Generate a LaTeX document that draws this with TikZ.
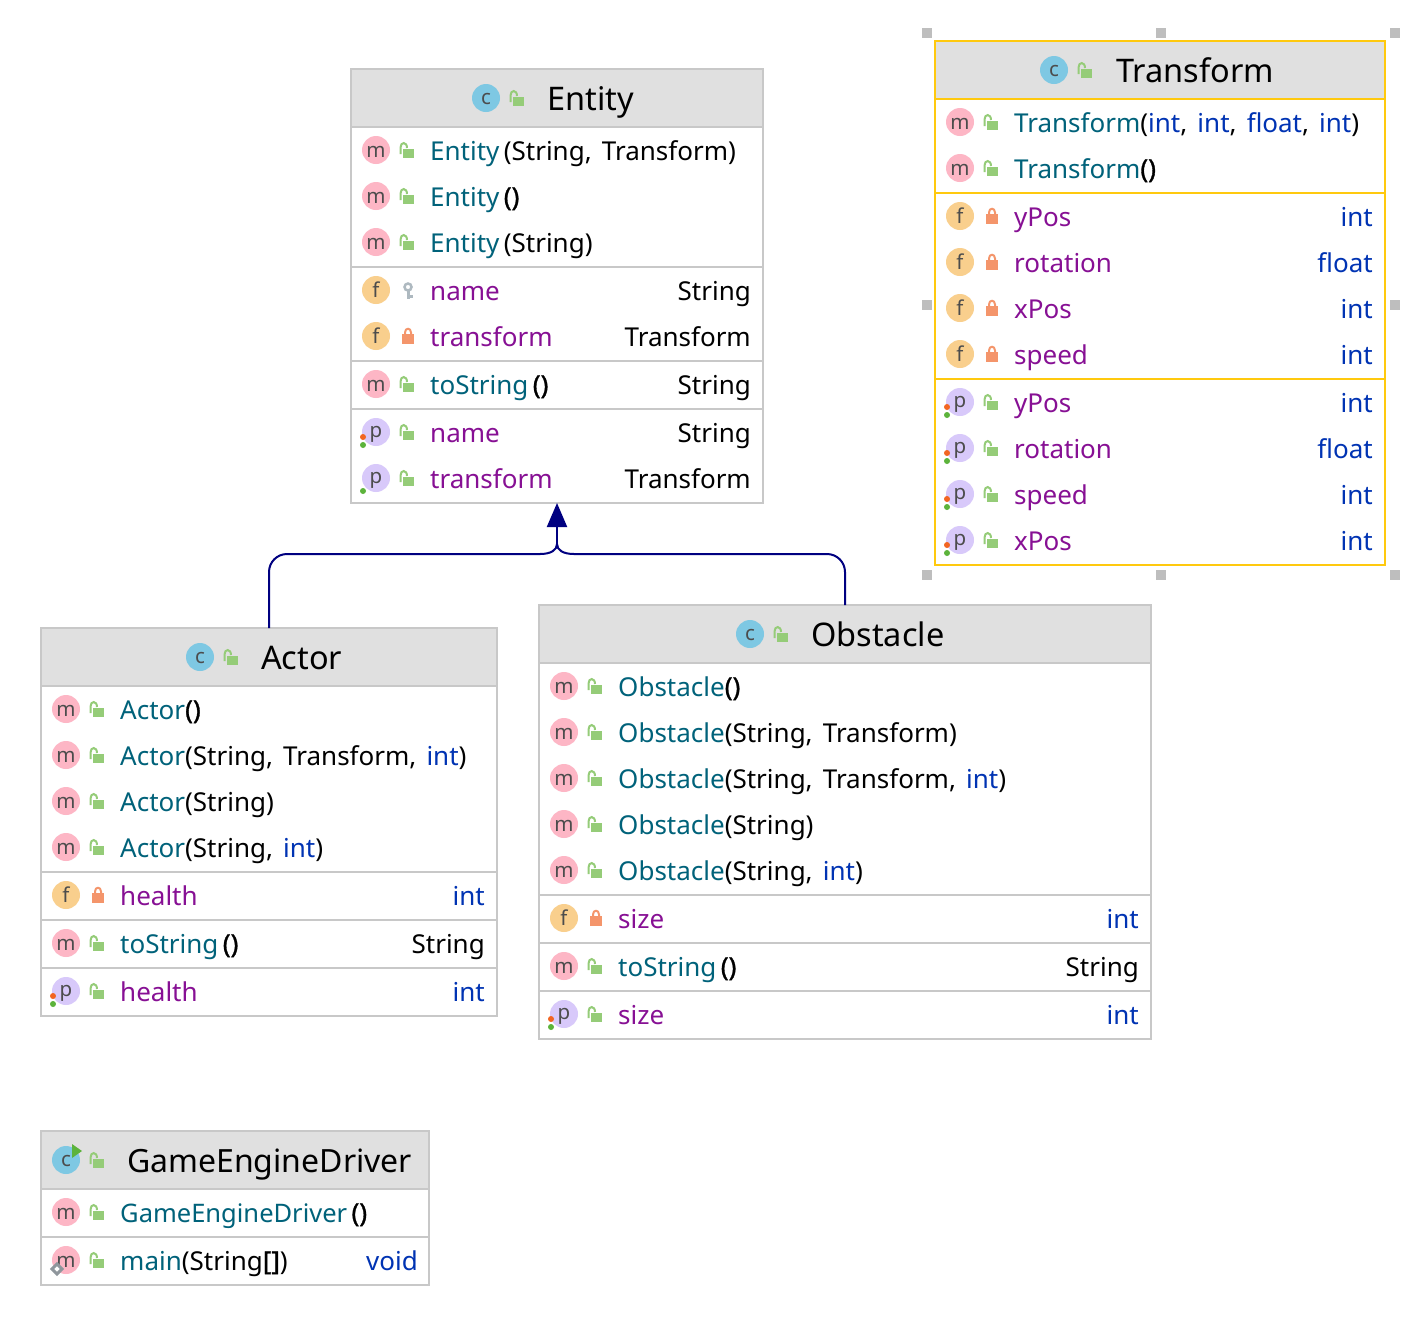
\documentclass[tikz,border=0pt]{standalone}
\usepackage{fontspec}
\setmainfont{Noto Sans}[WordSpace=1.5]
\newfontfamily\parenfont{Noto Sans}[FakeBold=1.2]
\usepackage{xcolor}
\definecolor{methname}{HTML}{00627A}
\definecolor{fieldname}{HTML}{871094}
\definecolor{kwblue}{HTML}{0033B3}
\definecolor{arrownavy}{HTML}{000080}
\definecolor{boxgrey}{HTML}{C8C8C8}
\definecolor{headgrey}{HTML}{E0E0E0}
\definecolor{selgold}{HTML}{FFC90E}
\definecolor{handlegrey}{HTML}{BEBEBE}
\definecolor{badgeblue}{HTML}{7EC8E3}
\definecolor{badgepink}{HTML}{FDB6C5}
\definecolor{badgeorange}{HTML}{F9CF8D}
\definecolor{badgeviolet}{HTML}{D8C9FA}
\definecolor{lockgreen}{HTML}{95CC78}
\definecolor{lockorange}{HTML}{F4956B}
\definecolor{keygrey}{HTML}{AEB9C0}
\definecolor{dotorange}{HTML}{F26522}
\definecolor{dotgreen}{HTML}{5CB33B}
\definecolor{markgrey}{HTML}{8F969C}
\usetikzlibrary{arrows.meta}
\tikzset{
	classbox/.style={draw=boxgrey,line width=1.5pt,fill=white,anchor=north west,inner sep=0pt,outer sep=0pt},
	headbox/.style={fill=headgrey,anchor=north west,inner sep=0pt,outer sep=0pt},
	sep/.style={boxgrey,line width=2.5pt},
	badge/.style={circle,minimum size=28pt,inner sep=0pt,text=black!70,text height=14pt,text depth=0pt,
		font=\fontsize{20.5}{20.5}\selectfont},
	rowtext/.style={anchor=base west,inner sep=0pt,font=\fontsize{26}{30}\selectfont},
	rowtype/.style={anchor=base east,inner sep=0pt,font=\fontsize{26}{30}\selectfont},
	titletext/.style={anchor=base west,inner sep=0pt,font=\fontsize{32.5}{38}\selectfont},
	link/.style={arrownavy,line width=2pt},
	inherit/.style={link,-{Triangle[length=24pt,width=20pt]}},
	publock/.pic={
		\fill[lockgreen] (27,-1) rectangle (38,8);
		\draw[lockgreen,line width=2pt] (24.5,4) -- (24.5,-2.5) .. controls (24.5,-8.5) and (31,-8.5) .. (31,-2);
	},
	privlock/.pic={
		\fill[lockorange] (26,-2) rectangle (38,8);
		\draw[lockorange,line width=2pt] (29,-2) -- (29,-3.5) .. controls (29,-8.5) and (35,-8.5) .. (35,-3.5) -- (35,-2);
	},
	pkgkey/.pic={
		\draw[keygrey,line width=2.5pt] (32,-3) circle (3.5pt);
		\draw[keygrey,line width=3pt] (32,1) -- (32,9) (32,6) -- (37,6);
	},
}
\newcommand*\nm[1]{\textcolor{methname}{#1}}
\newcommand*\fn[1]{\textcolor{fieldname}{#1}}
\newcommand*\ty[1]{\textcolor{kwblue}{#1}}
\newcommand*\hv[1]{{\parenfont #1}}
% name, y, text, type
\newcommand*\mrow[4]{
	\node[badge,fill=badgepink] (#1-badge) at (\cx,#2) {m};
	\pic at (\cx,#2) {publock};
	\node[rowtext] (#1-text) at (\tx,#2+10) {#3};
	\node[rowtype] (#1-type) at (\rx,#2+10) {#4};
}
% name, y, lock, text, type
\newcommand*\frow[5]{
	\node[badge,fill=badgeorange] (#1-badge) at (\cx,#2) {f};
	\pic at (\cx,#2) {#3};
	\node[rowtext] (#1-text) at (\tx,#2+10) {\fn{#4}};
	\node[rowtype] (#1-type) at (\rx,#2+10) {#5};
}
\newcommand*\prow[4]{
	\node[badge,fill=badgeviolet,text height=10pt] (#1-badge) at (\cx,#2) {p};
	\pic at (\cx,#2) {publock};
	\node[rowtext] (#1-text) at (\tx,#2+10) {\fn{#3}};
	\node[rowtype] (#1-type) at (\rx,#2+10) {#4};
}
% name, badge x, y, title x, title
\newcommand*\classtitle[5]{
	\node[badge,fill=badgeblue,text height=12pt] (#1-c) at (#2,#3) {c};
	\pic at (#2,#3) {publock};
	\node[titletext] (#1-title) at (#4,#3+12) {#5};
}

\begin{document}
\begin{tikzpicture}[x=1pt,y=-1pt]
	\useasboundingbox (0,0) rectangle (1426,1326);

	% class frames
	\node[classbox,minimum width=412pt,minimum height=434pt] (entity) at (351,69) {};
	\node[headbox,minimum width=410pt,minimum height=57pt] (entity-head) at (352,70) {};
	\node[classbox,minimum width=456pt,minimum height=388pt] (actor) at (41,628) {};
	\node[headbox,minimum width=454pt,minimum height=57pt] (actor-head) at (42,629) {};
	\node[classbox,minimum width=612pt,minimum height=434pt] (obstacle) at (539,605) {};
	\node[headbox,minimum width=610pt,minimum height=57pt] (obstacle-head) at (540,606) {};
	\node[classbox,minimum width=388pt,minimum height=154pt] (driver) at (41,1131) {};
	\node[headbox,minimum width=386pt,minimum height=57pt] (driver-head) at (42,1132) {};
	\node[classbox,draw=selgold,minimum width=450pt,minimum height=524pt] (transform) at (935,41) {};
	\node[headbox,minimum width=448pt,minimum height=57pt] (transform-head) at (936,42) {};

	% separators
	\foreach \y in {127,267,361,409} {
		\draw[sep] (351,\y) -- (763,\y);
	}
	\foreach \y in {686,872,920,968} {
		\draw[sep] (41,\y) -- (497,\y);
	}
	\foreach \y in {663,895,943,991} {
		\draw[sep] (539,\y) -- (1151,\y);
	}
	\foreach \y in {1189,1237} {
		\draw[sep] (41,\y) -- (429,\y);
	}
	\foreach \y in {99,193,379} {
		\draw[sep,selgold,line width=2pt] (935,\y) -- (1385,\y);
	}

	% selection handles
	\foreach \h in {
		(927,33),(1161,33),(1395,33),
		(927,305),(1395,305),
		(927,575),(1161,575),(1395,575)} {
		\fill[handlegrey] \h +(-5,-5) rectangle +(5,5);
	}

	% Entity
	\def\cx{376}\def\tx{430}\def\rx{751}
	\classtitle{entity}{486}{98}{547}{Entity}
	\mrow{ea}{150}{\nm{Entity}\,(String, Transform)}{}
	\mrow{eb}{196}{\nm{Entity}\,\hv{()}}{}
	\mrow{ec}{242}{\nm{Entity}\,(String)}{}
	\frow{ed}{290}{pkgkey}{name}{String}
	\frow{ee}{336}{privlock}{transform}{Transform}
	\mrow{ef}{384}{\nm{toString}\,\hv{()}}{String}
	\prow{eg}{432}{name}{String}
	\prow{eh}{478}{transform}{Transform}

	% Transform
	\def\cx{960}\def\tx{1014}\def\rx{1373}
	\classtitle{transform}{1054}{70}{1116}{Transform}
	\mrow{ta}{122}{\nm{Transform}(\ty{int}, \ty{int}, \ty{float}, \ty{int})}{}
	\mrow{tb}{168}{\nm{Transform}\hv{()}}{}
	\frow{tc}{216}{privlock}{yPos}{\ty{int}}
	\frow{td}{262}{privlock}{rotation}{\ty{float}}
	\frow{te}{308}{privlock}{xPos}{\ty{int}}
	\frow{tf}{354}{privlock}{speed}{\ty{int}}
	\prow{tg}{402}{yPos}{\ty{int}}
	\prow{th}{448}{rotation}{\ty{float}}
	\prow{ti}{494}{speed}{\ty{int}}
	\prow{tj}{540}{xPos}{\ty{int}}

	% Actor
	\def\cx{66}\def\tx{120}\def\rx{485}
	\classtitle{actor}{200}{657}{261}{Actor}
	\mrow{aa}{709}{\nm{Actor}\hv{()}}{}
	\mrow{ab}{755}{\nm{Actor}(String, Transform, \ty{int})}{}
	\mrow{ac}{801}{\nm{Actor}(String)}{}
	\mrow{ad}{847}{\nm{Actor}(String, \ty{int})}{}
	\frow{ae}{895}{privlock}{health}{\ty{int}}
	\mrow{af}{943}{\nm{toString}\,\hv{()}}{String}
	\prow{ag}{991}{health}{\ty{int}}

	% Obstacle
	\def\cx{564}\def\tx{618}\def\rx{1139}
	\classtitle{obstacle}{750}{634}{811}{Obstacle}
	\mrow{oa}{686}{\nm{Obstacle}\hv{()}}{}
	\mrow{ob}{732}{\nm{Obstacle}(String, Transform)}{}
	\mrow{oc}{778}{\nm{Obstacle}(String, Transform, \ty{int})}{}
	\mrow{od}{824}{\nm{Obstacle}(String)}{}
	\mrow{oe}{870}{\nm{Obstacle}(String, \ty{int})}{}
	\frow{of}{918}{privlock}{size}{\ty{int}}
	\mrow{og}{966}{\nm{toString}\,\hv{()}}{String}
	\prow{oh}{1014}{size}{\ty{int}}

	% GameEngineDriver
	\def\cx{66}\def\tx{120}\def\rx{418}
	\classtitle{driver}{66}{1160}{127}{\fontsize{32}{38}\selectfont GameEngineDriver}
	\mrow{da}{1212}{\nm{\fontsize{25.5}{30}\selectfont GameEngineDriver}\,\hv{()}}{}
	\mrow{db}{1260}{\nm{main}(String\hv{[]})}{\ty{void}}
	\fill[dotgreen] (72,1144) -- (82,1151) -- (72,1158) -- cycle;
	\draw[markgrey,line width=3pt,fill=white] (57,1264) -- (62,1269) -- (57,1274) -- (52,1269) -- cycle;

	% small marks on the property badges
	\foreach \o in {
		(363,437),(947,407),(947,453),(947,499),(947,545),
		(53,996),(551,1019)} {
		\fill[dotorange] \o circle (3pt);
	}
	\foreach \g in {
		(363,445),(363,491),(947,415),(947,461),(947,507),(947,553),
		(53,1004),(551,1027)} {
		\fill[dotgreen] \g circle (3pt);
	}

	% generalisation
	\coordinate (bus) at (557,554);
	\coordinate (busl) at (540,554);
	\coordinate (busr) at (574,554);
	\coordinate (stem) at (557,544);
	\draw[link,rounded corners=18pt] (actor.north) -- (actor.north |- bus) -- (busl);
	\draw[link,rounded corners=18pt] (obstacle.north) -- (obstacle.north |- bus) -- (busr);
	\draw[link] (busl) .. controls (551,554) and (557,550) .. (stem);
	\draw[link] (busr) .. controls (563,554) and (557,550) .. (stem);
	\draw[inherit] (stem) -- (entity.south);
\end{tikzpicture}
\end{document}
